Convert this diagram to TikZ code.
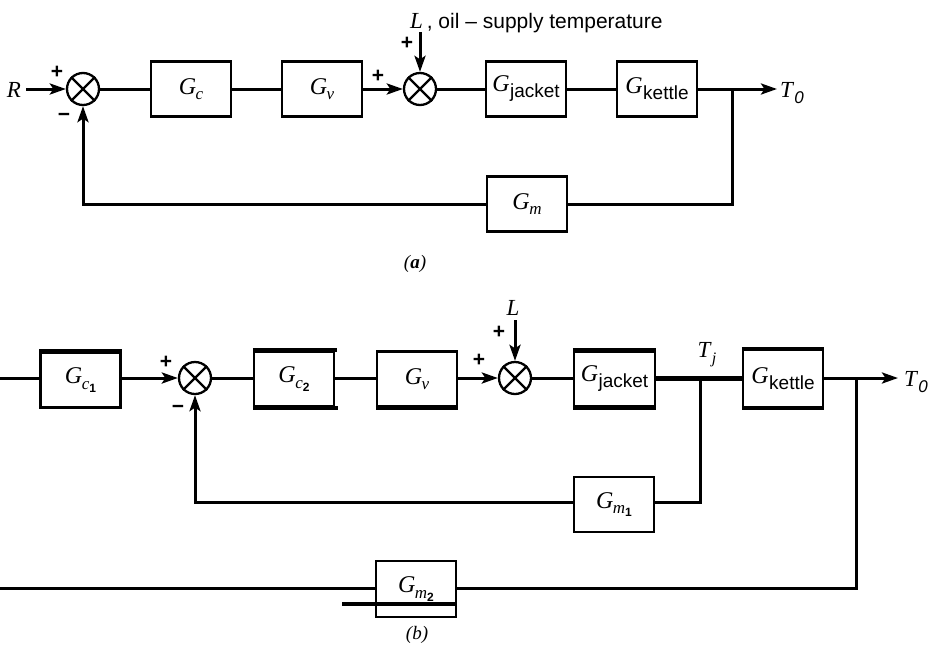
\documentclass[tikz,border=0pt]{standalone}
\usepackage{fontspec}
\setmainfont{Liberation Serif}
\newfontfamily\sansf[Ligatures=TeX]{Liberation Sans}
\usetikzlibrary{arrows.meta}
\newcommand\Gsub[1]{\textit{G}\kern-0.5pt\raisebox{-5.5pt}{\fontsize{17}{17}\selectfont #1}}
\newcommand\Gword[1]{\textit{G}\kern0.5pt\raisebox{-6pt}{\sansf\fontsize{19}{19}\selectfont #1}}
\newcommand\subsub[1]{\raisebox{-3pt}{\sansf\bfseries\fontsize{12}{12}\selectfont #1}}
\tikzset{
 ln/.style={line width=3pt},
 arr/.style={line width=3pt, -{Stealth[length=16pt,width=11pt,inset=3.5pt]}},
 blk/.style={draw, line width=2.3pt, minimum width=80pt, minimum height=55pt, inner sep=0pt, font=\fontsize{24}{24}\selectfont},
 sumj/.style={circle, draw, line width=2.3pt, minimum size=32pt, inner sep=0pt},
 sgn/.style={font=\sansf\bfseries\fontsize{21}{21}\selectfont, inner sep=0pt},
 lbl/.style={font=\fontsize{23}{23}\selectfont, inner sep=0pt},
 captxt/.style={font=\itshape\fontsize{19}{19}\selectfont, inner sep=0pt},
 bar/.style={line width=4pt},
}
\begin{document}
\begin{tikzpicture}[x=1pt,y=-1pt]
\useasboundingbox (0,0) rectangle (933,646);
% ---------------- (a) ----------------
\node[lbl] (R) at (14,90) {\textit{R}};
\node[sumj] (s1) at (83,89) {};
\node[blk] (Gc) at (191,89) {\Gsub{\textit{c}}};
\node[blk] (Gv) at (322,89) {\Gsub{\textit{v}}};
\node[sumj] (s2) at (420,89) {};
\node[blk] (Gj) at (526,89) {\Gword{jacket}};
\node[blk] (Gk) at (657,89) {\Gword{kettle}};
\node[blk] (Gm) at (527,204) {\Gsub{\textit{m}}};
\coordinate (ba) at (732,89);
\coordinate (Ta) at (777,89);
\node[lbl, anchor=west] (T0a) at (780,93) {\textit{T}\raisebox{-6pt}{\sansf\itshape\fontsize{17}{17}\selectfont 0}};
\node[anchor=base west, inner sep=0pt, font=\fontsize{23}{23}\selectfont] (Ltxt) at (410,28) {\textit{L}\,{\sansf\fontsize{21}{21}\selectfont , oil – supply temperature}};
\coordinate (La) at (420,32);
\node[sgn] (p1) at (57,72) {+};
\node[sgn] (m1) at (64,117) {−};
\node[sgn] (p2) at (378,76) {+};
\node[sgn] (p3) at (407,43) {+};
\node[captxt] (capa) at (415,264) {(\textbf{a})};

\draw[arr] (R.east) ++(5,-1) -- (s1.west);
\draw[ln] (s1.east) -- (Gc.west);
\draw[ln] (Gc.east) -- (Gv.west);
\draw[arr] (Gv.east) -- (s2.west);
\draw[arr] (La) -- (s2.north);
\draw[ln] (s2.east) -- (Gj.west);
\draw[ln] (Gj.east) -- (Gk.west);
\draw[arr] (Gk.east) -- (Ta);
\draw[ln] (ba) |- (Gm.east);
\draw[arr] (Gm.west) -| (s1.south);

% ---------------- (b) ----------------
\coordinate (inb) at (0,378);
\node[blk] (Gc1) at (80.5,380) {\Gsub{\textit{c}\subsub{1}}};
\node[sumj] (s3) at (195,378) {};
\node[blk] (Gc2) at (294,379) {\Gsub{\textit{c}\subsub{2}}};
\node[blk] (Gv2) at (417,379) {\Gsub{\textit{v}}};
\node[sumj] (s4) at (515,378) {};
\node[blk, minimum width=81pt] (Gj2) at (614.5,379) {\Gword{jacket}};
\node[blk, minimum height=57pt] (Gk2) at (783,378.5) {\Gword{kettle}};
\node[blk] (Gm1) at (614,504.5) {\Gsub{\textit{m}\subsub{1}}};
\node[blk, minimum height=56pt] (Gm2) at (416,589) {\Gsub{\textit{m}\subsub{2}}};
\coordinate (bj) at (700,378);
\coordinate (bk) at (856,378);
\coordinate (Tb) at (898,378);
\coordinate (outb) at (0,588);
\coordinate (Lb) at (515,320);
\node[lbl, anchor=west] (T0b) at (904,382) {\textit{T}\raisebox{-6pt}{\sansf\itshape\fontsize{17}{17}\selectfont 0}};
\node[lbl] (Tj) at (707,355) {\textit{T}\raisebox{-6pt}{\fontsize{16}{16}\selectfont\textit{j}}};
\node[lbl] (Lb2) at (513,308) {\textit{L}};
\node[sgn] (p4) at (166,362) {+};
\node[sgn] (m2) at (178,409) {−};
\node[sgn] (p5) at (479,360) {+};
\node[sgn] (p6) at (499,332) {+};
\node[captxt] (capb) at (417,635) {(\textit{b})};

\draw[ln] (inb) -- (inb -| Gc1.west);
\draw[arr] (Gc1.east |- s3) -- (s3.west);
\draw[ln] (s3.east) -- (s3.east -| Gc2.west);
\draw[ln] (Gc2.east |- s3) -- (Gv2.west |- s3);
\draw[arr] (Gv2.east |- s4) -- (s4.west);
\draw[arr] (Lb) -- (s4.north);
\draw[ln] (s4.east) -- (s4.east -| Gj2.west);
\draw[line width=5pt] (Gj2.east |- s4) -- (Gk2.west |- s4);
\draw[arr] (Gk2.east |- s4) -- (Tb);
\draw[ln] (bj) |- (Gm1.east |- 0,502);
\draw[arr] (Gm1.west |- 0,502) -| (s3.south);
\draw[ln] (bk) |- (Gm2.east |- outb);
\draw[ln] (Gm2.west |- outb) -- (outb);

% heavy printed edges
\draw[bar] (Gc1.north west) -- (Gc1.north east);
\draw[bar] (Gc2.north west) -- ([xshift=2pt]Gc2.north east);
\draw[bar] (Gc2.south west) -- ([xshift=3pt]Gc2.south east);
\draw[bar] (Gv2.south west) -- (Gv2.south east);
\draw[bar] (Gj2.north west) -- (Gj2.north east);
\draw[bar] (Gj2.south west) -- (Gj2.south east);
\draw[bar] (Gk2.north west) -- (Gk2.north east);
\draw[bar] (Gk2.south west) -- (Gk2.south east);
\coordinate (barL) at (342,604);
\draw[bar] (barL) -- (barL -| Gm2.east);

\foreach \s in {s1,s2,s3,s4}{
 \draw[line width=2.3pt] (\s.north east) -- (\s.south west) (\s.north west) -- (\s.south east);
}
\end{tikzpicture}
\end{document}
